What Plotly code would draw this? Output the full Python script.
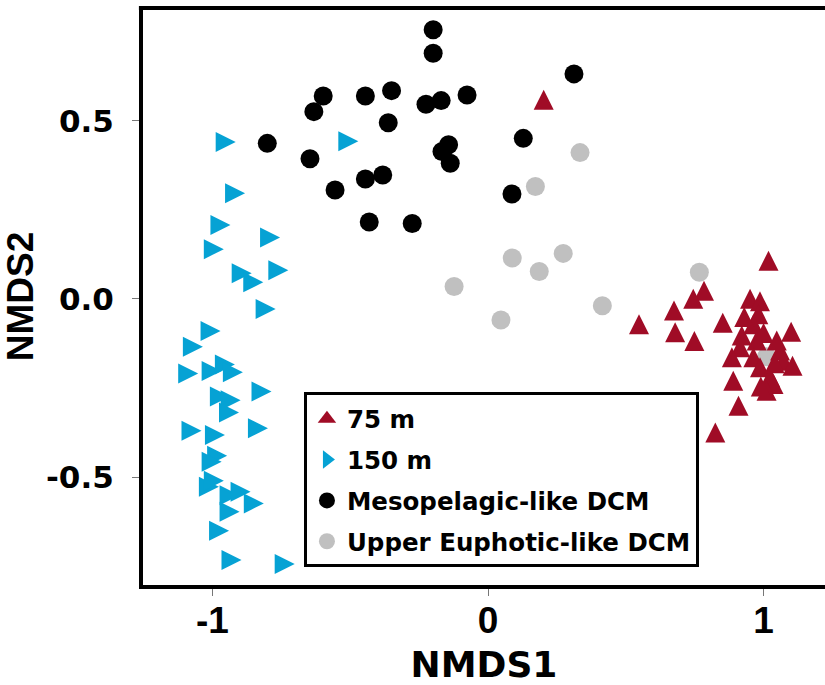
import plotly.graph_objects as go

# ---- data (NMDS coordinates) ----
red_x = [1.018, 0.784, 0.745, 0.675, 0.548, 0.679, 0.749, 0.852, 0.951, 0.987,
         0.981, 0.963, 0.921, 0.915, 0.885, 0.975, 0.963, 0.987, 1.024, 1.036,
         1.011, 1.060, 1.072, 1.048, 1.100, 1.105, 0.890, 0.909, 0.825, 0.202,
         0.930, 1.000, 0.990, 1.040]
red_y = [0.098, 0.014, -0.009, -0.042, -0.080, -0.103, -0.127, -0.076, -0.009, -0.016,
         -0.052, -0.080, -0.112, -0.145, -0.173, -0.126, -0.173, -0.201, -0.229, -0.248,
         -0.267, -0.154, -0.183, -0.126, -0.101, -0.197, -0.239, -0.309, -0.384, 0.550,
         -0.060, -0.105, -0.255, -0.190]

blue_x = [-0.964, -0.519, -0.930, -0.983, -0.803, -1.007, -0.906, -0.864, -0.773, -0.819,
          -1.019, -1.083, -1.100, -1.015, -0.967, -0.938, -0.834, -0.985, -0.946, -0.952,
          -1.088, -1.003, -0.847, -0.995, -1.015, -1.025, -1.007, -0.950, -0.910, -0.862,
          -0.950, -0.988, -0.943, -0.750]
blue_y = [0.441, 0.443, 0.297, 0.208, 0.173, 0.140, 0.072, 0.047, 0.081, -0.028,
          -0.090, -0.134, -0.209, -0.202, -0.184, -0.206, -0.260, -0.274, -0.284, -0.319,
          -0.370, -0.382, -0.363, -0.440, -0.457, -0.527, -0.510, -0.551, -0.541, -0.574,
          -0.597, -0.651, -0.733, -0.744]

black_x = [-0.199, -0.199, 0.312, -0.598, -0.632, -0.445, -0.350, -0.362, -0.225, -0.170,
           -0.076, -0.801, -0.646, -0.143, -0.167, -0.137, 0.128, -0.555, -0.445, -0.382,
           -0.431, -0.275, 0.087]
black_y = [0.756, 0.690, 0.632, 0.570, 0.526, 0.570, 0.585, 0.495, 0.547, 0.557,
           0.573, 0.437, 0.394, 0.433, 0.414, 0.381, 0.451, 0.306, 0.337, 0.348,
           0.216, 0.212, 0.295]

grey_x = [0.334, 0.172, 0.088, 0.273, 0.186, -0.123, 0.047, 0.415, 0.767, 1.011]
grey_y = [0.411, 0.316, 0.115, 0.128, 0.077, 0.035, -0.059, -0.019, 0.075, -0.162]

x_ticks = [-1, 0, 1]
x_tick_labels = ["-1", "0", "1"]
y_ticks = [-0.5, 0.0, 0.5]
y_tick_labels = ["-0.5", "0.0", "0.5"]

RED = "#A00C26"
BLUE = "#06A2D4"
BLACK = "#000000"
GREY = "#C0C0C0"

TRI = 20  # triangle marker size (base = height = TRI px)

fig = go.Figure()
# data traces (legend entries are drawn by the legend-only traces below)
fig.add_trace(go.Scatter(x=grey_x, y=grey_y, mode="markers", showlegend=False,
                         marker=dict(symbol="circle", size=19, color=GREY, line=dict(width=0))))
fig.add_trace(go.Scatter(x=black_x, y=black_y, mode="markers", showlegend=False,
                         marker=dict(symbol="circle", size=19, color=BLACK, line=dict(width=0))))
fig.add_trace(go.Scatter(x=blue_x, y=blue_y, mode="markers", showlegend=False,
                         marker=dict(symbol="arrow-down", angle=270, standoff=TRI * 2 / 3,
                                     size=TRI, color=BLUE, line=dict(width=0))))
fig.add_trace(go.Scatter(x=red_x, y=red_y, mode="markers", showlegend=False,
                         marker=dict(symbol="arrow-down", angle=180, standoff=TRI * 2 / 3,
                                     size=TRI, color=RED, line=dict(width=0))))

legend_entries = [
    ("75 m", "triangle-up", RED),
    ("150 m", "triangle-right", BLUE),
    ("Mesopelagic-like DCM", "circle", BLACK),
    ("Upper Euphotic-like DCM", "circle", GREY),
]
for i, (name, sym, col) in enumerate(legend_entries):
    fig.add_trace(go.Scatter(x=[None], y=[None], mode="markers", name=name,
                             legendgroup=f"g{i}", legendrank=i + 1,
                             marker=dict(symbol=sym, size=16, color=col, line=dict(width=0))))

fig.update_layout(
    width=825, height=685,
    margin=dict(l=143, r=0, t=8, b=100),
    paper_bgcolor="white", plot_bgcolor="white",
    showlegend=True,
    legend=dict(
        x=0.236, y=0.3345, xanchor="left", yanchor="top",
        bgcolor="white", bordercolor="black", borderwidth=3,
        font=dict(family="DejaVu Sans", size=24.5, color="black", weight="bold"),
        tracegroupgap=6,
        title=dict(text=" ", font=dict(size=1)),
    ),
    xaxis=dict(
        range=[-1.252, 1.223], tickvals=x_ticks, ticktext=x_tick_labels,
        showgrid=False, zeroline=False,
        showline=True, linecolor="black", linewidth=4, mirror=False,
        ticks="outside", ticklen=7, tickwidth=1, tickcolor="#777777",
        tickfont=dict(family="Liberation Sans", size=37, color="black", weight="bold"),
        ticklabelstandoff=-7,
        title=dict(text="NMDS1", standoff=19,
                   font=dict(family="DejaVu Sans", size=36, color="black", weight="bold")),
    ),
    yaxis=dict(
        range=[-0.803, 0.817], tickvals=y_ticks, ticktext=y_tick_labels,
        showgrid=False, zeroline=False,
        showline=True, linecolor="black", linewidth=4, mirror=False,
        ticks="outside", ticklen=7, tickwidth=1, tickcolor="#777777",
        tickfont=dict(family="DejaVu Sans", size=31, color="black", weight="bold"),
        ticklabelstandoff=12,
        title=dict(text="NMDS2", standoff=4,
                   font=dict(family="Liberation Sans", size=37, color="black", weight="bold")),
    ),
    shapes=[dict(type="line", xref="paper", yref="paper", x0=-0.006, x1=1.0, y0=1, y1=1,
                 line=dict(color="black", width=4))],
)

fig.write_html("out.html")
